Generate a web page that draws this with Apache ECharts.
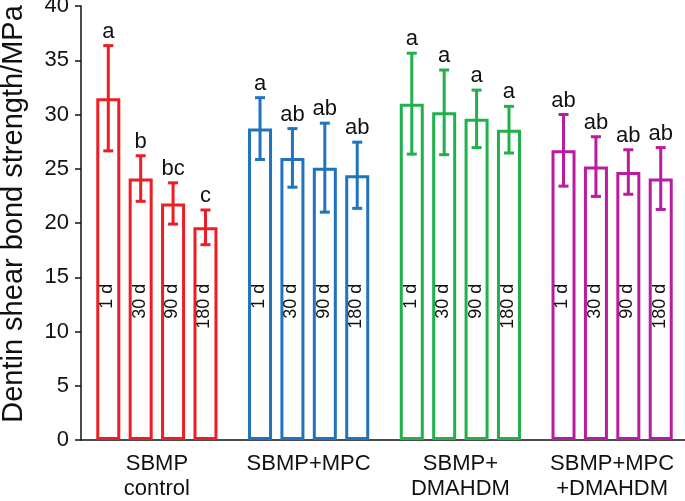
<!DOCTYPE html>
<html>
<head>
<meta charset="utf-8">
<script src="https://cdn.jsdelivr.net/npm/echarts@6/dist/echarts.min.js"></script>
<style>html,body{margin:0;padding:0;background:#fff}#c{width:685px;height:501px}</style>
</head>
<body>
<div id="c"></div>
<script>
// ---- data ----
var categories = ['SBMP\ncontrol', 'SBMP+MPC', 'SBMP+\nDMAHDM', 'SBMP+MPC\n+DMAHDM'];
var days = ['1 d', '30 d', '90 d', '180 d'];
var groupColors = ['#ee1c24', '#1f74bd', '#21b14b', '#b91c9f'];
var mean1 = [31.5, 28.7, 31.0, 26.7];
var mean30 = [24.1, 26.0, 30.2, 25.2];
var mean90 = [21.8, 25.1, 29.6, 24.7];
var mean180 = [19.6, 24.4, 28.6, 24.1];
var sd1 = [4.85, 2.85, 4.65, 3.3];
var sd30 = [2.1, 2.7, 3.9, 2.75];
var sd90 = [1.9, 4.1, 2.65, 2.05];
var sd180 = [1.6, 3.05, 2.15, 2.85];
var let1 = ['a', 'a', 'a', 'ab'];
var let30 = ['b', 'ab', 'a', 'ab'];
var let90 = ['bc', 'ab', 'a', 'ab'];
var let180 = ['c', 'ab', 'a', 'ab'];
var yTicks = [0, 40, 5];

var means = [mean1, mean30, mean90, mean180];
var sds = [sd1, sd30, sd90, sd180];
var lets = [let1, let30, let90, let180];

var BAR_W = 24;
var BAR_GAP = '35%';
var FONT = '"Liberation Sans", Arial, sans-serif';

var series = [];
days.forEach(function (d, di) {
  series.push({
    type: 'bar',
    name: d,
    barWidth: BAR_W,
    barGap: BAR_GAP,
    data: means[di].map(function (v, ci) {
      return { value: v, itemStyle: { color: '#fff', borderColor: groupColors[ci], borderWidth: 3 } };
    }),
    silent: true
  });
});

var errData = [];
days.forEach(function (d, di) {
  categories.forEach(function (c, ci) {
    errData.push([ci, means[di][ci], sds[di][ci], di, lets[di][ci]]);
  });
});

series.push({
  type: 'custom',
  data: errData,
  encode: { x: 0, y: 1 },
  z: 10,
  silent: true,
  renderItem: function (params, api) {
    var ci = api.value(0), m = api.value(1), s = api.value(2), di = api.value(3);
    var letter = errData[params.dataIndex][4];
    var col = groupColors[ci];
    var lay = api.barLayout({ count: days.length, barWidth: BAR_W, barGap: BAR_GAP });
    var x = api.coord([ci, 0])[0] + lay[di].offsetCenter;
    var yT = api.coord([ci, m + s])[1];
    var yB = api.coord([ci, m - s])[1];
    var yLab = api.coord([ci, 14.4])[1];
    var st = { stroke: col, lineWidth: 3 };
    return {
      type: 'group',
      children: [
        { type: 'line', shape: { x1: x, y1: yT, x2: x, y2: yB }, style: st },
        { type: 'line', shape: { x1: x - 5, y1: yT, x2: x + 5, y2: yT }, style: st },
        { type: 'line', shape: { x1: x - 5, y1: yB, x2: x + 5, y2: yB }, style: st },
        { type: 'text', x: x, y: yT - 3, style: { text: letter, align: 'center', verticalAlign: 'bottom', font: '22px ' + FONT, fill: '#111' } },
        { type: 'text', x: x - 1, y: yLab, rotation: Math.PI / 2, style: { text: days[di], align: 'right', verticalAlign: 'middle', font: '18px ' + FONT, fill: '#111' } }
      ]
    };
  }
});

var chart = echarts.init(document.getElementById('c'));
chart.setOption({
  animation: false,
  backgroundColor: '#fff',
  grid: { left: 81, right: -3, top: 6, bottom: 61, containLabel: false, outerBoundsMode: 'none' },
  xAxis: {
    type: 'category',
    data: categories,
    axisLine: { lineStyle: { color: '#111', width: 1.5 } },
    axisTick: { show: false },
    axisLabel: { color: '#111', fontSize: 22, fontFamily: FONT, margin: 11, lineHeight: 25, interval: 0 }
  },
  yAxis: {
    type: 'value',
    min: yTicks[0], max: yTicks[1], interval: yTicks[2],
    name: 'Dentin shear bond strength/MPa',
    nameLocation: 'middle',
    nameGap: 53,
    nameTextStyle: { color: '#111', fontSize: 29, fontFamily: FONT, padding: [0, 0, 0, 18] },
    axisLine: { show: true, lineStyle: { color: '#111', width: 1.5 } },
    axisTick: { show: true, length: 6, lineStyle: { color: '#111', width: 1.5 } },
    axisLabel: { color: '#111', fontSize: 22, fontFamily: FONT, margin: 12 },
    splitLine: { show: false }
  },
  series: series
});
</script>
</body>
</html>
